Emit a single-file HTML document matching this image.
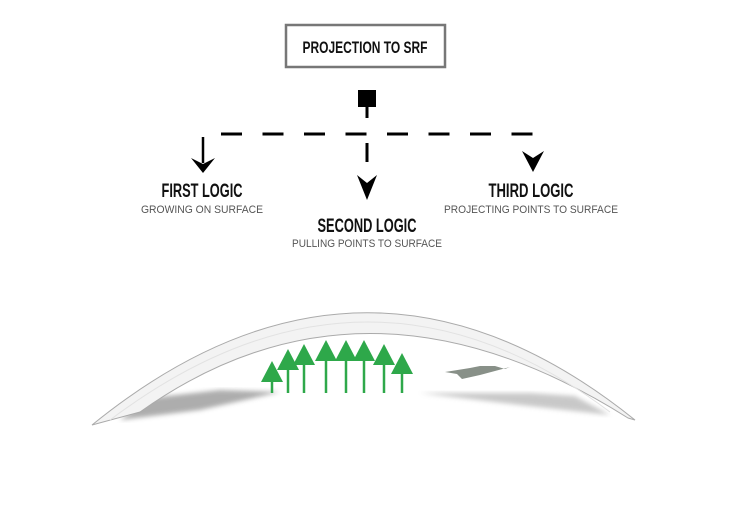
<!DOCTYPE html>
<html><head><meta charset="utf-8"><style>
html,body{margin:0;padding:0;background:#fff;}
body{width:730px;height:500px;overflow:hidden;}
</style></head><body>
<svg width="730" height="500" viewBox="0 0 730 500" xmlns="http://www.w3.org/2000/svg">
<defs>
<filter id="bl"><feGaussianBlur stdDeviation="2.5"/></filter>
</defs>
<rect x="286" y="25" width="159" height="42" fill="#fff" stroke="#777" stroke-width="2.5"/>
<g font-family="'Liberation Sans',sans-serif" text-anchor="middle">
<text x="365" y="53" font-weight="bold" font-size="17" fill="#111" textLength="125" lengthAdjust="spacingAndGlyphs">PROJECTION TO SRF</text>
<text x="202" y="197" font-weight="bold" font-size="19" fill="#111" textLength="81" lengthAdjust="spacingAndGlyphs">FIRST LOGIC</text>
<text x="202" y="213" font-size="11" fill="#555" textLength="122" lengthAdjust="spacingAndGlyphs">GROWING ON SURFACE</text>
<text x="367" y="232" font-weight="bold" font-size="19" fill="#111" textLength="99" lengthAdjust="spacingAndGlyphs">SECOND LOGIC</text>
<text x="367" y="247" font-size="11" fill="#555" textLength="150" lengthAdjust="spacingAndGlyphs">PULLING POINTS TO SURFACE</text>
<text x="531" y="197" font-weight="bold" font-size="19" fill="#111" textLength="85" lengthAdjust="spacingAndGlyphs">THIRD LOGIC</text>
<text x="531" y="213" font-size="11" fill="#555" textLength="174" lengthAdjust="spacingAndGlyphs">PROJECTING POINTS TO SURFACE</text>
</g>
<rect x="358" y="90" width="18" height="17" fill="#000"/>
<line x1="367" y1="106" x2="367" y2="118" stroke="#000" stroke-width="3"/>
<line x1="221" y1="134" x2="540" y2="134" stroke="#000" stroke-width="3" stroke-dasharray="21 20.5"/>
<line x1="367" y1="143" x2="367" y2="162" stroke="#000" stroke-width="3"/>
<line x1="203" y1="137" x2="203" y2="163" stroke="#000" stroke-width="2.5"/>
<path d="M191,158 L203,173 L215,158 L203,164 Z" fill="#000"/>
<path d="M357,175 L367,200 L377,175 L367,183 Z" fill="#000"/>
<path d="M522,151 L533,172 L544,151 L533,158 Z" fill="#000"/>
<!-- shadows -->
<path d="M150,398 L220,390 L280,392 L200,410 L120,420 Z" fill="#999" filter="url(#bl)" opacity="0.8"/>
<path d="M420,393 L530,393 L575,396 L610,415 L520,405 Z" fill="#bbb" filter="url(#bl)" opacity="0.8"/>
<path d="M445,372 L470,368 L480,366 L495,366 L505,369 L510,367 L480,375 L462,379 L457,374 Z" fill="#889088"/>
<!-- arch -->
<path d="M92,425 Q365,203 635,420 L628,418 Q365,252 140,412 Z" fill="#f3f3f3" stroke="#aaa" stroke-width="1"/>
<path d="M110,420 Q365,228 610,412" fill="none" stroke="#e2e2e2" stroke-width="1"/>
<!-- green arrows -->
<g fill="#2ea84a" stroke="#2ea84a">
<g stroke-width="2.5">
<line x1="272" y1="370" x2="272" y2="393"/><line x1="288" y1="358" x2="288" y2="393"/>
<line x1="304" y1="353" x2="304" y2="393"/><line x1="326" y1="349" x2="326" y2="393"/>
<line x1="346" y1="349" x2="346" y2="393"/><line x1="364" y1="349" x2="364" y2="393"/>
<line x1="384" y1="353" x2="384" y2="393"/><line x1="402" y1="362" x2="402" y2="393"/>
</g>
<g stroke="none">
<path d="M272,361 L283,382 L261,382 Z"/><path d="M288,349 L299,370 L277,370 Z"/>
<path d="M304,344 L315,365 L293,365 Z"/><path d="M326,340 L337,361 L315,361 Z"/>
<path d="M346,340 L357,361 L335,361 Z"/><path d="M364,340 L375,361 L353,361 Z"/>
<path d="M384,344 L395,365 L373,365 Z"/><path d="M402,353 L413,374 L391,374 Z"/>
</g>
</g>
</svg>
</body></html>
